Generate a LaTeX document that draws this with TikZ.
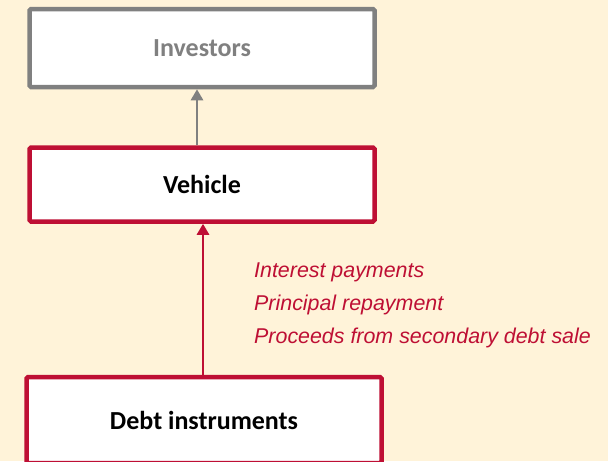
\documentclass[tikz,border=0pt]{standalone}
\usepackage{fontspec}
\setmainfont{Carlito}
\newfontfamily\flowfont{Liberation Sans}
\usetikzlibrary{arrows.meta}
\definecolor{cream}{HTML}{FFF3D9}
\definecolor{crimson}{HTML}{BE0F34}
\definecolor{slate}{HTML}{808080}
\tikzset{
  entity/.style={draw, line width=4.5pt, rounded corners=1.5pt, fill=white,
    minimum width=345pt, font=\bfseries\fontsize{26}{28}\selectfont, inner sep=0pt},
  flowarrow/.style={line width=2.6pt, -{Triangle[width=12pt,length=11pt]}},
  flowtext/.style={font=\flowfont\itshape\fontsize{21.4}{33}\selectfont, text=crimson,
    align=left, anchor=base west, inner sep=0pt}
}
\begin{document}
\begin{tikzpicture}[x=1pt,y=-1pt]
  \fill[cream] (0,0) rectangle (608,461);
  \useasboundingbox (0,0) rectangle (608,461);
  \clip (0,0) rectangle (608,461);
  \node[entity, draw=slate, text=slate, minimum height=78pt] (investors) at (202,48) {Investors};
  \node[entity, draw=crimson, text=black, minimum height=74pt] (vehicle) at (202,184.5) {Vehicle};
  \node[entity, draw=crimson, text=black, minimum width=355pt, minimum height=86pt] (debt) at (204,420) {Debt instruments};
  \draw[flowarrow, slate] ([xshift=-5pt]vehicle.north) -- ([xshift=-5pt]investors.south);
  \draw[flowarrow, crimson] ([xshift=-1pt]debt.north) -- ([xshift=1pt]vehicle.south);
  % multi-line node: its base anchor sits on the last line
  \node[flowtext] (flows) at (254,343) {Interest payments\\Principal repayment\\Proceeds from secondary debt sale};
\end{tikzpicture}
\end{document}
